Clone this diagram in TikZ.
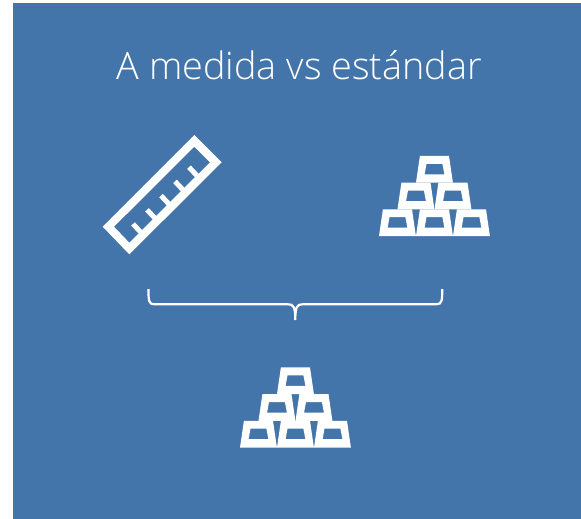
\documentclass[tikz,border=0pt]{standalone}
\usepackage{fontspec}
\setmainfont{Open Sans Light}
\definecolor{panelblue}{HTML}{4375AA}
\tikzset{
  panel/.style={fill=panelblue,draw=none},
  icon/.style={fill=white,draw=none,even odd rule},
  rulertick/.style={draw=white,line width=5pt},
  bracket/.style={draw=white,line width=2.2pt},
  heading/.style={text=white,font=\fontsize{37.8}{37.8}\selectfont,inner sep=0pt},
  goldbar/.pic={
    \path[icon] (3.9,-26.7) -- (33,-26.7) -- (36.9,0) -- (0,0) -- cycle
                (10.5,-18.8) -- (26.4,-18.8) -- (28.4,-8.3) -- (8.6,-8.3) -- cycle;
  },
  goldpile/.pic={
    % Bottom row
    \pic at (0,0) {goldbar};
    \pic at (37,0) {goldbar};
    \pic at (74,0) {goldbar};
    % Middle row
    \pic at (18.5,-26.7) {goldbar};
    \pic at (55.5,-26.7) {goldbar};
    % Top bar
    \pic at (37,-53.4) {goldbar};
  },
}
\begin{document}
\begin{tikzpicture}[x=1pt,y=-1pt]
    \useasboundingbox (0,0) rectangle (581,519);
    \path[panel] (13,3) rectangle (581,519);

    % Title
    \node[heading] (title) at (299.5,65.5) {A medida vs estándar};

    % Ruler
    \path[icon] (194.3,135) -- (221.7,162.3) -- (129.3,254.3) -- (102.7,226.7) -- cycle
                (194.3,146.7) -- (210,162.3) -- (129.3,242.7) -- (114,226.7) -- cycle;
    \foreach \i in {0,...,4} {
      \draw[rulertick] (141.5+14*\i,233-14.2*\i) -- (133+14*\i,224-14.2*\i);
    }

    % Gold bars
    \pic at (379,236) {goldpile};
    \pic at (240,447.5) {goldpile};

    % Bracket
    \draw[bracket] (148.5,289) .. controls (148.5,300) and (148.5,304.3) .. (154,304.3)
        -- (288,304.3) .. controls (293,304.3) and (295.3,306) .. (295.3,320)
        .. controls (295.3,306) and (297.5,304.3) .. (302.5,304.3)
        -- (436.5,304.3) .. controls (442.2,304.3) and (442.2,300) .. (442.2,289);
  \end{tikzpicture}
\end{document}
